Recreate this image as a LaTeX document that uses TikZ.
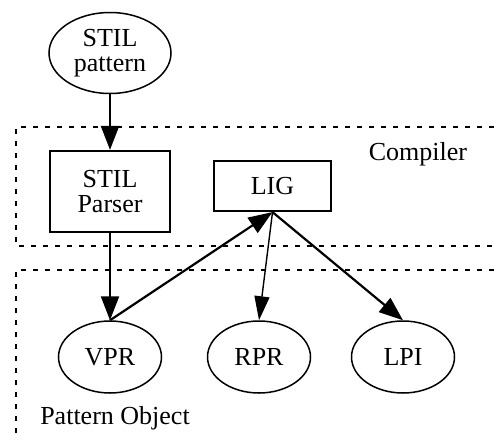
\documentclass[tikz,border=0pt]{standalone}
\usepackage{fontspec}
\setmainfont{Liberation Serif}
\usetikzlibrary{shapes.geometric,arrows.meta}
\begin{document}
\begin{tikzpicture}[x=1pt,y=-1pt,
  font=\fontsize{26}{25}\selectfont,
  oval/.style={draw,ellipse,line width=1.5pt,inner sep=0pt,align=center},
  blockbox/.style={draw,rectangle,line width=2.2pt,inner sep=0pt,align=center},
  region/.style={line width=1.3pt,dash pattern=on 5pt off 7pt},
  flow/.style={line width=2.2pt,-{Triangle[length=24pt 0 0,width=18pt 0 0]}},
  thinflow/.style={line width=1.4pt,-{Triangle[length=24pt 0 0,width=15pt 0 0]}}]
\useasboundingbox (0,0) rectangle (494,439);

% dashed regions
\draw[region] (494,127) -- (16,127) -- (16,246) -- (494,246);
\draw[region] (494,270) -- (16,270) -- (16,439);
\node (complbl) at (418,154) {Compiler};
\node (patlbl) at (115,418) {Pattern Object};

% nodes
\node[oval,minimum width=122pt,minimum height=81pt] (stil) at (110,53) {STIL\\pattern};
\node[blockbox,minimum width=120pt,minimum height=81pt] (parser) at (110,191.5) {STIL\\Parser};
\node[blockbox,minimum width=117pt,minimum height=50pt] (lig) at (272.5,186) {LIG};
\node[oval,minimum width=103pt,minimum height=72pt] (vpr) at (110,357) {VPR};
\node[oval,minimum width=103pt,minimum height=72pt] (rpr) at (259,357) {RPR};
\node[oval,minimum width=103pt,minimum height=72pt] (lpi) at (403,357) {LPI};

% connectors
\draw[flow] (stil.south) -- (parser.north);
\draw[flow] (parser.south) -- (vpr.north);
\draw[flow] (vpr.north) -- (lig.south);
\draw[thinflow] (lig.south) -- (rpr.north);
\draw[flow] (lig.south) -- (lpi.north);
\end{tikzpicture}
\end{document}
